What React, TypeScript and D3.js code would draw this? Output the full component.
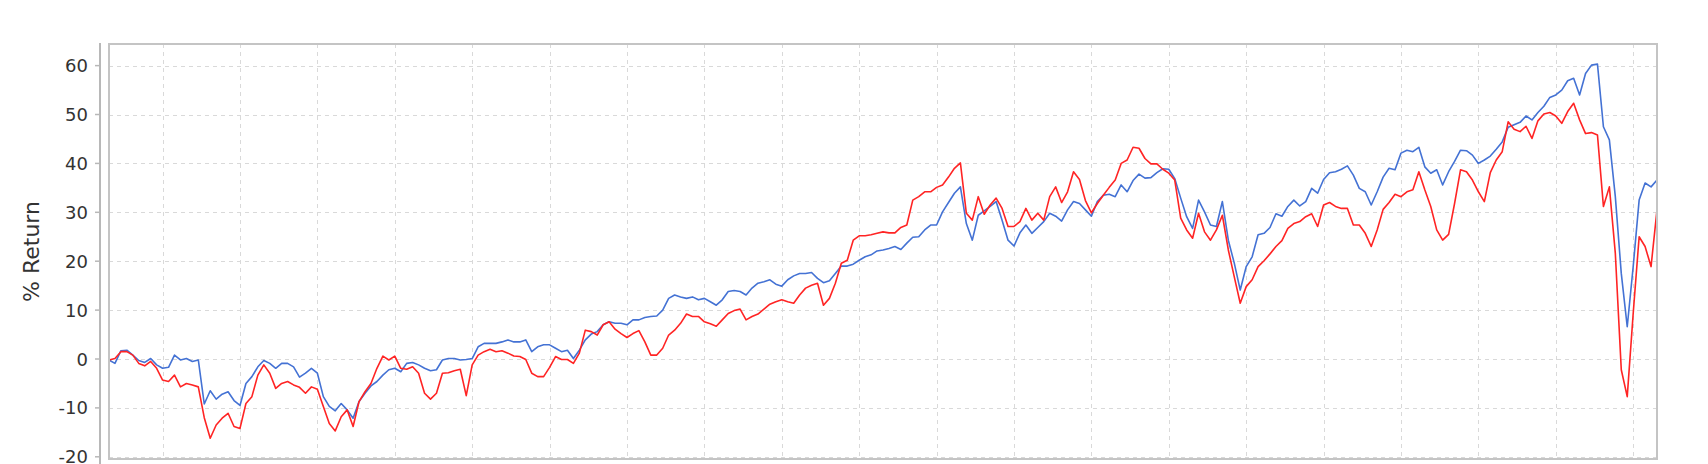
import React from "react";
import * as d3 from "d3";

// Cumulative % return, one sample per step (index)
const fundReturn: number[] = [
  -0.2, -0.9, 1.7, 1.8, 0.8, -0.3, -0.7, 0.1, -1.2, -1.9,
  -1.7, 0.8, -0.2, 0.1, -0.5, -0.2, -9.2, -6.5, -8.2, -7.2,
  -6.7, -8.5, -9.5, -5.0, -3.6, -1.6, -0.3, -0.9, -1.9, -0.9,
  -0.9, -1.6, -3.7, -2.9, -1.9, -2.9, -7.7, -9.7, -10.6, -9.1,
  -10.4, -12.1, -8.7, -7.0, -5.5, -4.6, -3.3, -2.2, -1.9, -2.6,
  -0.9, -0.7, -1.2, -1.9, -2.4, -2.2, -0.2, 0.1, 0.1, -0.2,
  -0.1, 0.1, 2.5, 3.2, 3.2, 3.2, 3.5, 3.9, 3.5, 3.5,
  3.9, 1.5, 2.5, 2.9, 2.9, 2.2, 1.5, 1.8, 0.1, 1.8,
  3.9, 5.1, 5.6, 7.0, 7.6, 7.3, 7.3, 7.0, 8.0, 8.0,
  8.5, 8.7, 8.8, 10.0, 12.4, 13.1, 12.7, 12.4, 12.7, 12.1,
  12.4, 11.7, 11.0, 12.1, 13.8, 14.0, 13.8, 13.1, 14.5, 15.5,
  15.8, 16.2, 15.3, 14.9, 16.2, 17.0, 17.5, 17.5, 17.7, 16.5,
  15.6, 16.0, 17.5, 19.0, 19.0, 19.4, 20.2, 20.9, 21.3, 22.1,
  22.3, 22.6, 23.0, 22.4, 23.7, 24.9, 25.0, 26.4, 27.4, 27.4,
  30.1, 32.0, 33.9, 35.2, 27.7, 24.3, 29.4, 30.3, 31.2, 32.2,
  28.4, 24.3, 23.1, 25.8, 27.4, 25.7, 26.9, 28.1, 29.8, 29.2,
  28.2, 30.5, 32.2, 31.8, 30.5, 29.2, 32.2, 33.5, 33.7, 33.2,
  35.6, 34.2, 36.5, 37.8, 37.0, 37.1, 38.1, 38.9, 38.8, 36.9,
  32.9, 29.1, 26.7, 32.5, 30.1, 27.4, 27.1, 32.2, 24.3, 19.6,
  14.1, 18.9, 20.9, 25.4, 25.7, 26.9, 29.7, 29.2, 31.2, 32.5,
  31.3, 32.2, 34.9, 33.9, 36.7, 38.1, 38.3, 38.8, 39.5, 37.6,
  34.9, 34.2, 31.5, 34.2, 37.2, 39.0, 38.7, 42.1, 42.7, 42.4,
  43.3, 39.3, 38.0, 38.7, 35.6, 38.3, 40.4, 42.7, 42.6, 41.7,
  40.0, 40.7, 41.5, 42.9, 44.4, 47.4, 47.9, 48.4, 49.7, 48.9,
  50.4, 51.7, 53.5, 54.0, 55.0, 56.9, 57.4, 54.0, 58.4, 60.1,
  60.3, 47.5, 44.8, 33.2, 17.5, 6.6, 18.9, 32.5, 36.0, 35.2,
  36.6,
];

const benchmarkReturn: number[] = [
  -0.2, 0.1, 1.5, 1.5, 0.8, -0.9, -1.4, -0.5, -1.9, -4.3,
  -4.6, -3.3, -5.7, -5.0, -5.3, -5.7, -12.0, -16.2, -13.5, -12.1,
  -11.1, -13.8, -14.2, -9.1, -7.7, -3.3, -1.2, -2.9, -6.0, -5.0,
  -4.6, -5.3, -5.8, -7.0, -5.7, -6.2, -9.7, -13.2, -14.7, -11.8,
  -10.4, -13.8, -8.7, -6.7, -5.0, -1.9, 0.6, -0.2, 0.6, -1.9,
  -2.1, -1.6, -2.9, -7.0, -8.2, -7.0, -2.9, -2.8, -2.4, -2.1,
  -7.5, -1.2, 0.8, 1.5, 2.0, 1.5, 1.7, 1.2, 0.6, 0.5,
  -0.1, -2.9, -3.6, -3.6, -1.7, 0.5, -0.1, -0.1, -0.9, 1.2,
  5.9, 5.6, 4.9, 7.0, 7.6, 6.1, 5.2, 4.4, 5.2, 5.8,
  3.5, 0.8, 0.8, 2.2, 4.9, 5.9, 7.3, 9.2, 8.7, 8.7,
  7.6, 7.2, 6.7, 8.0, 9.3, 9.9, 10.2, 8.0, 8.7, 9.2,
  10.2, 11.2, 11.7, 12.1, 11.7, 11.4, 13.1, 14.5, 15.1, 15.5,
  11.0, 12.4, 15.5, 19.6, 20.2, 24.3, 25.2, 25.2, 25.4, 25.7,
  26.0, 25.8, 25.8, 26.9, 27.4, 32.5, 33.2, 34.2, 34.2, 35.1,
  35.6, 37.2, 39.0, 40.1, 29.8, 28.4, 33.2, 29.6, 31.5, 32.9,
  30.8, 27.1, 27.1, 28.1, 30.8, 28.4, 29.8, 28.4, 33.2, 35.2,
  32.0, 34.2, 38.3, 36.7, 32.4, 29.9, 31.8, 33.5, 35.1, 36.6,
  40.0, 40.7, 43.3, 43.1, 41.0, 39.9, 39.9, 38.8, 38.0, 36.6,
  28.8, 26.4, 24.7, 29.8, 26.0, 24.3, 26.4, 29.4, 22.3, 16.8,
  11.4, 14.8, 16.2, 18.9, 20.1, 21.5, 23.0, 24.2, 26.7, 27.7,
  28.1, 29.1, 29.7, 27.1, 31.5, 32.0, 31.2, 30.8, 30.8, 27.4,
  27.4, 25.7, 23.0, 26.4, 30.6, 32.0, 33.7, 33.2, 34.2, 34.6,
  38.3, 34.6, 31.2, 26.4, 24.3, 25.5, 31.8, 38.7, 38.3, 36.6,
  34.2, 32.2, 38.1, 40.7, 42.4, 48.5, 47.0, 46.5, 47.6, 45.1,
  48.7, 50.1, 50.4, 49.7, 48.2, 50.6, 52.3, 48.9, 46.1, 46.3,
  45.8, 31.2, 35.2, 21.6, -2.2, -7.7, 9.3, 25.0, 23.0, 18.9,
  30.5,
];

const yTicks: number[] = [-20, -10, 0, 10, 20, 30, 40, 50, 60];
// vertical grid positions, in sample-index units
const xGridTicks: number[] = d3.range(9, 257, 13);

const yTitle = "% Return";

const W = 1708;
const H = 464;
const plot = { left: 109, top: 44, right: 1657, bottom: 459 };

export default function App() {
  const n = fundReturn.length;
  const x = d3.scaleLinear().domain([0, n - 1]).range([plot.left, plot.right]);
  const y = d3.scaleLinear().domain([-20.45, 64.42]).range([plot.bottom, plot.top]);
  const line = d3
    .line<number>()
    .x((_, i) => x(i))
    .y((d) => y(d));

  const axisX = 100;
  const font = "'DejaVu Sans', sans-serif";

  return (
    <svg
      width={W}
      height={H}
      viewBox={`0 0 ${W} ${H}`}
      style={{ position: "absolute", left: 0, top: 0, background: "#fff" }}
    >
      <rect x={0} y={0} width={W} height={H} fill="#fff" />
      <defs>
        <clipPath id="plotClip">
          <rect x={plot.left} y={plot.top} width={plot.right - plot.left} height={plot.bottom - plot.top} />
        </clipPath>
      </defs>
      {/* gridlines */}
      <g stroke="#d9d9d9" strokeWidth={1} strokeDasharray="4,4" fill="none">
        {yTicks.map((t) => (
          <line key={"h" + t} x1={plot.left} x2={plot.right} y1={Math.round(y(t)) + 0.5} y2={Math.round(y(t)) + 0.5} />
        ))}
        {xGridTicks.map((t) => (
          <line key={"v" + t} x1={Math.round(x(t)) + 0.5} x2={Math.round(x(t)) + 0.5} y1={plot.top} y2={plot.bottom} />
        ))}
      </g>
      {/* series */}
      <g clipPath="url(#plotClip)" fill="none" strokeWidth={1.6} strokeLinejoin="round">
        <path d={line(fundReturn) || ""} stroke="#4472d4" />
        <path d={line(benchmarkReturn) || ""} stroke="#ff2424" />
      </g>
      {/* plot border */}
      <rect
        x={plot.left}
        y={plot.top}
        width={plot.right - plot.left}
        height={plot.bottom - plot.top}
        fill="none"
        stroke="#c4c4c4"
        strokeWidth={2}
      />
      {/* y axis */}
      <line x1={axisX} x2={axisX} y1={plot.top - 1} y2={H} stroke="#b8b8b8" strokeWidth={2} />
      <g fontFamily={font} fontSize={18} fill="#333">
        {yTicks.map((t) => (
          <g key={"t" + t}>
            <line x1={axisX - 5} x2={axisX} y1={y(t)} y2={y(t)} stroke="#b8b8b8" strokeWidth={1.5} />
            <text x={88} y={y(t)} textAnchor="end" dominantBaseline="central">
              {t}
            </text>
          </g>
        ))}
      </g>
      <text
        transform={`translate(31, ${(plot.top + plot.bottom) / 2}) rotate(-90)`}
        textAnchor="middle"
        dominantBaseline="central"
        fontFamily={font}
        fontSize={22}
        fill="#333"
      >
        {yTitle}
      </text>
    </svg>
  );
}
